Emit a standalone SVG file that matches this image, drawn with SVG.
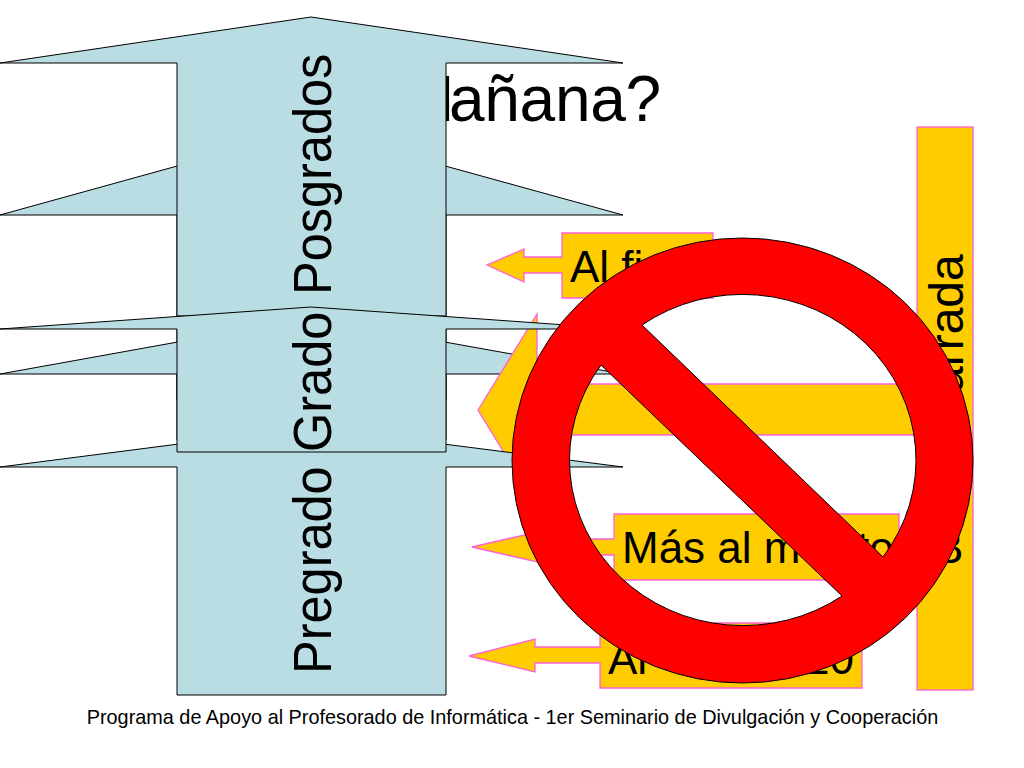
<svg xmlns="http://www.w3.org/2000/svg" width="1024" height="768" viewBox="0 0 1024 768">
<style>
text{font-family:"Liberation Sans",Arial,sans-serif;fill:#000}
.blue{fill:#b9dde2;stroke:#000;stroke-width:1;stroke-linejoin:miter}
.gold{fill:#ffcc00;stroke:#ff5fd8;stroke-width:1.3}
.big{font-size:50.500px}
.mid{font-size:44px}
</style>
<rect width="1024" height="768" fill="#fff"/>
<g id="title"><text y="121" font-size="64" letter-spacing="-0.3"><tspan x="401">M</tspan><tspan x="449">añana?</tspan></text></g>
<g id="arrow-back-1"><path class="blue" d="M311 129L623 215H446V400H177V215H0Z"/></g>
<g id="arrow-back-2"><path class="blue" d="M311 318L623 374H446V440H177V374H0Z"/></g>
<g id="bar-right"><rect class="gold" x="917" y="127" width="56" height="563"/><text transform="translate(963 254) rotate(-90) translate(-139 0)" font-size="48">arrada</text></g>
<g id="arrow-center"><path class="gold" d="M478 410L537 314V384H917V435H537V507Z"/></g>
<g id="arrow-posgrados"><path class="blue" d="M311 17L623 63H446V316H177V63H0Z"/><text class="big" transform="translate(331 295) rotate(-90) scale(1 1.06)">Posgrados</text></g>
<g id="arrow-pregrado"><path class="blue" d="M311 427L623 467H446V695H177V467H0Z"/><text class="big" transform="translate(331 674) rotate(-90) scale(1 1.06)">Pregrado</text></g>
<g id="arrow-grado"><path class="blue" d="M311 307L623 329H446V452H177V329H0Z"/><text class="big" transform="translate(331 452) rotate(-90) scale(1 1.06)">Grado</text></g>
<g id="callout-1"><path class="gold" d="M562 233H713V298H562V273H524V282L487 265L524 249V257H562Z"/><text class="mid" x="570" y="282">Al fi</text></g>
<g id="callout-2"><path class="gold" d="M614 514H899V580H614V555H546V564L472 547L546 530V539H614Z"/><text class="mid" x="622" y="563">Más al m</text><text class="mid" x="857" y="563">to</text><text class="mid" x="934" y="563">B</text></g>
<g id="callout-3"><path class="gold" d="M600 623H862V688H600V663H535V672L469 656L535 639V647H600Z"/><text class="mid" x="608" y="674">Ar</text><text class="mid" x="805" y="674">20</text></g>
<g id="no-symbol"><path fill="#ff0000" stroke="#000" stroke-width="1" fill-rule="evenodd" d="M512 460.500A230.500 222.500 0 1 1 973 460.500A230.500 222.500 0 1 1 512 460.500ZM642 325L883 557A173.500 165.500 0 0 0 642 325ZM601 365A173.500 165.500 0 0 0 842 596Z"/></g>
<g id="footer"><text x="512.500" y="723.500" font-size="19.850" text-anchor="middle">Programa de Apoyo al Profesorado de Informática - 1er Seminario de Divulgación y Cooperación</text></g>
</svg>
